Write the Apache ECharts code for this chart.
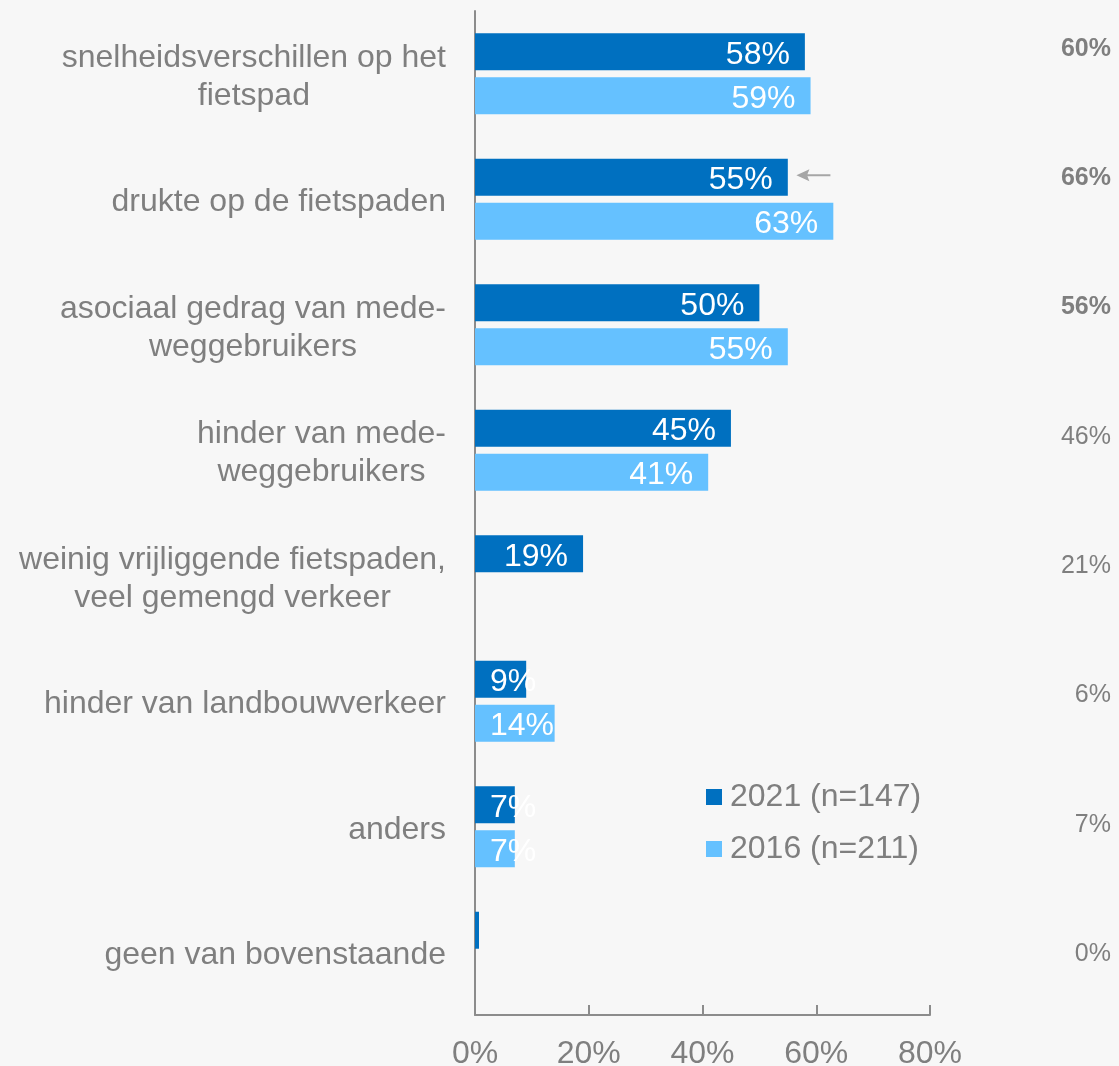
<!DOCTYPE html>
<html>
<head>
<meta charset="utf-8">
<script src="https://cdn.jsdelivr.net/npm/echarts@6/dist/echarts.min.js"></script>
<style>
  html, body { margin: 0; padding: 0; background: #f7f7f7; }
  #chart { width: 1119px; height: 1066px; }
</style>
</head>
<body>
<div id="chart"></div>
<script>
const categories = [
    'snelheidsverschillen op het\nfietspad',
    'drukte op de fietspaden',
    'asociaal gedrag van mede-\nweggebruikers',
    'hinder van mede-\nweggebruikers',
    'weinig vrijliggende fietspaden,\nveel gemengd verkeer',
    'hinder van landbouwverkeer',
    'anders',
    'geen van bovenstaande'
]
const values2021 = [58, 55, 50, 45, 19, 9, 7, 0.7]
const values2016 = [59, 63, 55, 41, null, 14, 7, null]
const otherLabels = ['60%', '66%', '56%', '46%', '21%', '6%', '7%', '0%']
const xTicks = [0, 20, 40, 60, 80]

const grey = '#7f7f7f'
const font = "'Liberation Sans', Arial, sans-serif"

// label inside the bar end, or from the axis when the bar is short
function barData(vals) {
    return vals.map(v => {
        if (v == null) return '-'
        if (v < 1) return { value: v, label: { show: false } }
        if (v < 15) return { value: v, label: { position: 'insideLeft', distance: 15 } }
        return v
    })
}

const option = {
    backgroundColor: '#f7f7f7',
    textStyle: { fontFamily: font },
    animation: false,
    legend: {
        orient: 'vertical',
        left: 701,
        top: 774,
        itemWidth: 16,
        itemHeight: 16,
        itemGap: 16,
        icon: 'rect',
        data: ['2021 (n=147)', '2016 (n=211)'],
        textStyle: { color: grey, fontSize: 32, lineHeight: 36, padding: [0, 0, 0, 3] }
    },
    grid: [
        { left: 475, right: 189, top: 11, bottom: 51, outerBoundsMode: 'none' },
        { left: 1111, right: 7, top: -18, bottom: 49, outerBoundsMode: 'none' }
    ],
    xAxis: [
        {
            type: 'value',
            min: xTicks[0],
            max: xTicks[xTicks.length - 1],
            interval: 20,
            axisLine: { show: true, lineStyle: { color: '#8c8c8c', width: 2 } },
            axisTick: { show: true, inside: true, length: 10, lineStyle: { color: '#8c8c8c', width: 2 } },
            splitLine: { show: false },
            axisLabel: { formatter: '{value}%', color: grey, fontSize: 32, margin: 23 }
        },
        { type: 'value', gridIndex: 1, show: false }
    ],
    yAxis: [
        {
            type: 'category',
            inverse: true,
            data: categories,
            axisLine: { show: true, lineStyle: { color: '#8c8c8c', width: 2 } },
            axisTick: { show: false },
            axisLabel: {
                color: grey,
                fontSize: 32,
                lineHeight: 38,
                margin: 29,
                padding: [6, 0, 0, 0],
                formatter: v => v.split('\n').map(l => '{c|' + l + '}').join('\n'),
                rich: {
                    c: { align: 'center', color: grey, fontSize: 32, lineHeight: 38 }
                }
            }
        },
        {
            type: 'category',
            gridIndex: 1,
            inverse: true,
            data: otherLabels,
            axisLine: { show: false },
            axisTick: { show: false },
            axisLabel: {
                margin: 0,
                padding: [4, 0, 0, 0],
                formatter: (v, i) => (i < 3 ? '{b|' + v + '}' : '{n|' + v + '}'),
                rich: {
                    b: { fontWeight: 'bold', color: grey, fontSize: 25 },
                    n: { color: grey, fontSize: 25 }
                }
            }
        }
    ],
    series: [
        {
            name: '2021 (n=147)',
            type: 'bar',
            data: barData(values2021),
            barWidth: 37,
            barGap: '19%',
            itemStyle: { color: '#0070C0' },
            label: {
                show: true,
                position: 'insideRight',
                distance: 15,
                offset: [0, 3],
                formatter: '{c}%',
                color: '#fff',
                fontSize: 32
            },
            markPoint: {
                symbol: 'path://M0,6 L13,0 L11,5 L34,5 L34,7 L11,7 L13,12 Z',
                symbolSize: [34, 12],
                symbolOffset: [0, -2],
                itemStyle: { color: '#a6a6a6' },
                label: { show: false },
                data: [{ coord: [59.5, categories[1]] }]
            }
        },
        {
            name: '2016 (n=211)',
            type: 'bar',
            data: barData(values2016),
            barWidth: 37,
            itemStyle: { color: '#65C1FF' },
            label: {
                show: true,
                position: 'insideRight',
                distance: 15,
                offset: [0, 3],
                formatter: '{c}%',
                color: '#fff',
                fontSize: 32
            }
        }
    ]
}

const chart = echarts.init(document.getElementById('chart'))
chart.setOption(option)
</script>
</body>
</html>
